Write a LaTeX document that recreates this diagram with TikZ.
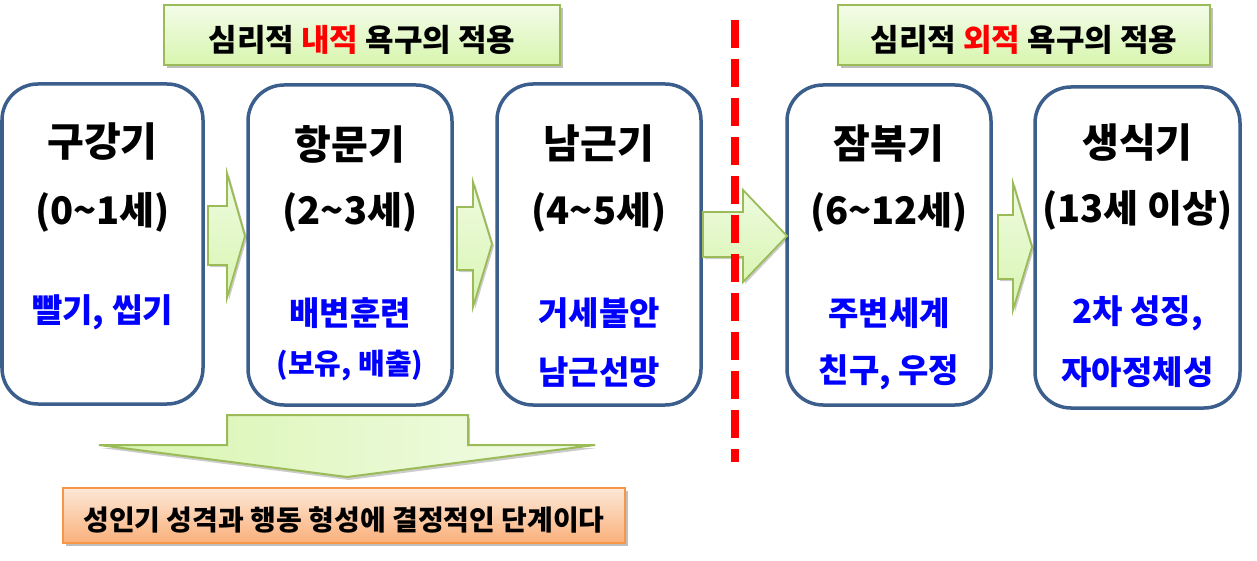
\documentclass[tikz,border=0pt]{standalone}
\usepackage{fontspec}
\setmainfont{Noto Sans CJK KR}
\usetikzlibrary{shadows}
\definecolor{boxblue}{HTML}{3B5E8C}
\definecolor{grnborder}{HTML}{9BBB59}
\definecolor{grntop}{HTML}{F3FCE9}
\definecolor{grnbot}{HTML}{D8F5AE}
\definecolor{arrtop}{HTML}{EEFBE0}
\definecolor{arrbot}{HTML}{D9F5B2}
\definecolor{orgborder}{HTML}{F79646}
\definecolor{orgtop}{HTML}{FDE8D8}
\definecolor{orgbot}{HTML}{FAB07A}
\definecolor{txtblue}{HTML}{0000FF}
\definecolor{dashred}{HTML}{FF0000}
\begin{document}
\begin{tikzpicture}[x=1pt,y=-1pt,
  stagebox/.style={draw=boxblue, line width=3.5pt, rounded corners=36pt, fill=white, inner sep=0pt},
  labelbox/.style={draw=grnborder, line width=2.5pt, top color=grntop, bottom color=grnbot, inner sep=0pt,
    drop shadow={shadow xshift=3pt, shadow yshift=-3pt, fill=black, opacity=0.25}},
  orgbox/.style={draw=orgborder, line width=2.5pt, top color=orgtop, bottom color=orgbot, inner sep=0pt,
    drop shadow={shadow xshift=3pt, shadow yshift=-3pt, fill=black, opacity=0.25}},
  blockarrow/.style={draw=grnborder, line width=1.8pt, line join=miter, top color=arrtop, bottom color=arrbot,
    drop shadow={shadow xshift=2pt, shadow yshift=-2pt, fill=black, opacity=0.2}},
  bigarrow/.style={draw=grnborder, line width=2pt, line join=miter, left color=grnbot, right color=grntop,
    drop shadow={shadow xshift=2pt, shadow yshift=-3pt, fill=black, opacity=0.2}},
  ttl/.style={inner sep=0pt, font=\fontsize{40}{42}\selectfont\bfseries},
  age/.style={inner sep=0pt, font=\fontsize{38}{40}\selectfont\bfseries},
  desc/.style={inner sep=0pt, text=txtblue, font=\fontsize{33}{35}\selectfont\bfseries},
  descs/.style={inner sep=0pt, text=txtblue, font=\fontsize{29}{31}\selectfont\bfseries},
  lbl/.style={inner sep=0pt, font=\fontsize{31}{33}\selectfont\bfseries},
  lblo/.style={inner sep=0pt, font=\fontsize{28}{30}\selectfont\bfseries}
]
\useasboundingbox (0,0) rectangle (1257,561);

% stage boxes
\node[stagebox, minimum width=201pt, minimum height=320pt] (b1) at (102.5,244) {};
\node[stagebox, minimum width=204pt, minimum height=320pt] (b2) at (350,245) {};
\node[stagebox, minimum width=204pt, minimum height=321pt] (b3) at (599,244.5) {};
\node[stagebox, minimum width=204pt, minimum height=320pt] (b4) at (889,245) {};
\node[stagebox, minimum width=205pt, minimum height=321pt] (b5) at (1137.5,247.5) {};

% texts in boxes
\node[ttl] (t1) at (102.5,142) {구강기};
\node[age] (a1) at (102.5,212) {(0\textasciitilde1세)};
\node[desc] (d1) at (102.5,312) {빨기, 씹기};

\node[ttl] (t2) at (350,144) {항문기};
\node[age] (a2) at (350,212) {(2\textasciitilde3세)};
\node[desc] (d2) at (350,313) {배변훈련};
\node[descs] (e2) at (350,366) {(보유, 배출)};

\node[ttl] (t3) at (599,144) {남근기};
\node[age] (a3) at (599,212) {(4\textasciitilde5세)};
\node[desc] (d3) at (599,313) {거세불안};
\node[desc] (e3) at (599,372) {남근선망};

\node[ttl] (t4) at (889,144) {잠복기};
\node[age] (a4) at (889,212) {(6\textasciitilde12세)};
\node[desc] (d4) at (889,313) {주변세계};
\node[desc] (e4) at (889,372) {친구, 우정};

\node[ttl] (t5) at (1137.5,143) {생식기};
\node[age] (a5) at (1137.5,210) {(13세 이상)};
\node[desc] (d5) at (1137.5,313) {2차 성징,};
\node[desc] (e5) at (1137.5,372) {자아정체성};

% block arrows between boxes
\path[blockarrow] (208,206) -- (227,206) -- (227,173) -- (245,236) -- (227,298) -- (227,265) -- (208,265) -- cycle;
\path[blockarrow] (457,207) -- (473,207) -- (473,182) -- (492,244) -- (473,307) -- (473,270) -- (457,270) -- cycle;
\path[blockarrow] (703,212) -- (743,212) -- (743,190) -- (787,236) -- (743,282) -- (743,257) -- (703,257) -- cycle;
\path[blockarrow] (998,215) -- (1013,215) -- (1013,183) -- (1032,247) -- (1013,310) -- (1013,279) -- (998,279) -- cycle;

% top label boxes
\node[labelbox, minimum width=396pt, minimum height=60pt] (la) at (362,35) {};
\node[lbl] (lat) at (362,40) {심리적 \textcolor{dashred}{내적} 욕구의 적용};
\node[labelbox, minimum width=372pt, minimum height=60pt] (lb) at (1024,35) {};
\node[lbl] (lbt) at (1024,40) {심리적 \textcolor{dashred}{외적} 욕구의 적용};

% red dashed divider
\coordinate (dtop) at (735,20);
\coordinate (dbot) at (735,462);
\draw[dashred, line width=8pt, dash pattern=on 28pt off 11pt] (dtop) -- (dbot);

% big down arrow
\path[bigarrow] (227,415) -- (468,415) -- (468,445) -- (595,445) -- (347,477) -- (99,445) -- (227,445) -- cycle;

% conclusion box
\node[orgbox, minimum width=562pt, minimum height=55pt] (ob) at (344,515.5) {};
\node[lblo] (obt) at (344,520) {성인기 성격과 행동 형성에 결정적인 단계이다};
\end{tikzpicture}
\end{document}
